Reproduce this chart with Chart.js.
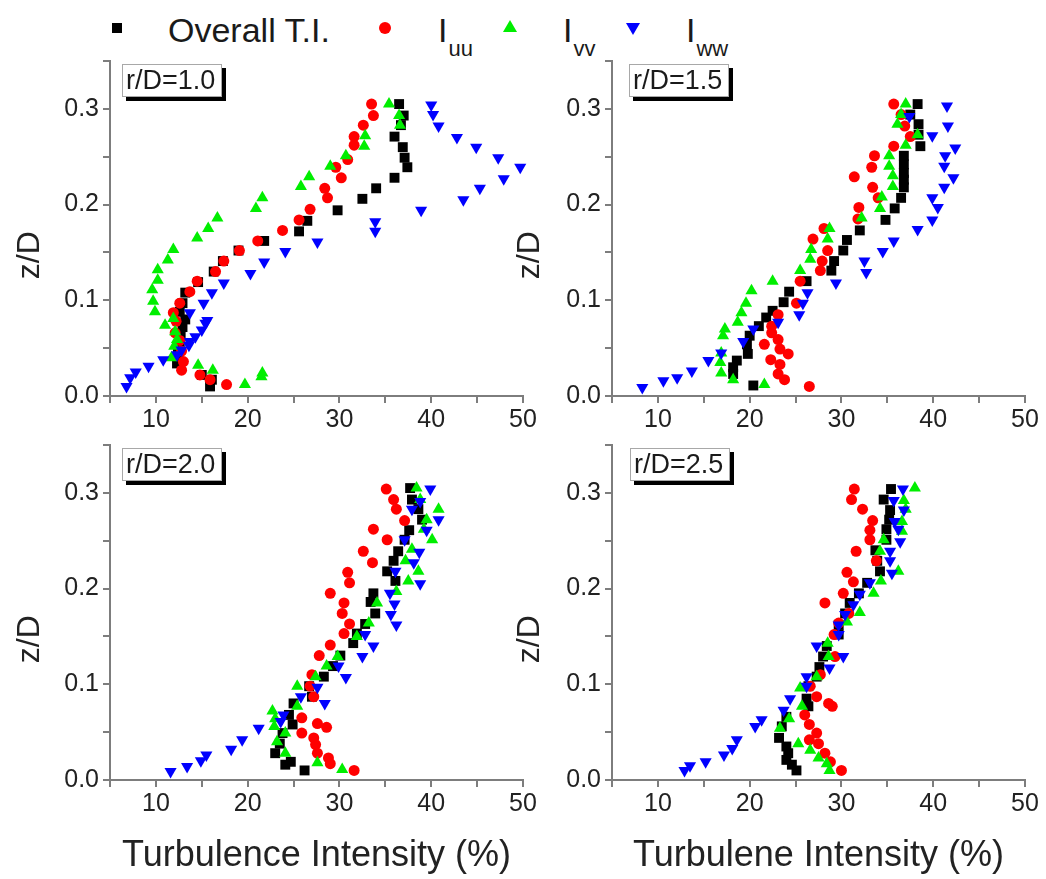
<!DOCTYPE html>
<html>
<head>
<meta charset="utf-8">
<script src="https://cdn.jsdelivr.net/npm/chart.js@4.4.1/dist/chart.umd.min.js"></script>
<style>
  html, body { margin: 0; padding: 0; background: #ffffff; }
  #wrap { position: relative; width: 1046px; height: 879px; overflow: hidden; background: #ffffff;
          font-family: 'Liberation Sans', Arial, Helvetica, sans-serif; color: #1a1a1a; }
  .panel { position: absolute; }
  .panel canvas { display: block; }
  .lg { position: absolute; top: 13px; font-size: 34px; line-height: 34px; white-space: nowrap; }
  .lg sub { font-size: 22px; line-height: 1; vertical-align: -14px; margin-left: 1px; }
  .mk { position: absolute; width: 0; height: 0; }
  .tag { position: absolute; box-sizing: border-box; width: 100px; height: 33px; background: #fff;
         border: 1px solid #a8a8a8; box-shadow: 4px 4px 0 0 #000; font-size: 27px; line-height: 31px;
         padding-left: 3px; color: #1a1a1a; white-space: nowrap; }
</style>
</head>
<body>
<div id="wrap">
  <!-- legend -->
  <div class="mk" style="left:112px;top:23px;width:10px;height:10px;background:#000;"></div>
  <div class="lg" style="left:168px;">Overall T.I.</div>
  <div class="mk" style="left:379px;top:22px;width:12px;height:12px;border-radius:50%;background:#ff0000;"></div>
  <div class="lg" style="left:438px;">I<sub>uu</sub></div>
  <div class="mk" style="left:503px;top:20px;border-left:7px solid transparent;border-right:7px solid transparent;border-bottom:12px solid #00ee00;"></div>
  <div class="lg" style="left:563px;">I<sub>vv</sub></div>
  <div class="mk" style="left:626px;top:23px;border-left:7px solid transparent;border-right:7px solid transparent;border-top:12px solid #0000ff;"></div>
  <div class="lg" style="left:686px;">I<sub>ww</sub></div>

  <div class="panel" style="left:0px;top:40px;"><canvas id="c1" width="545" height="400"></canvas></div>
  <div class="panel" style="left:500px;top:40px;"><canvas id="c2" width="546" height="400"></canvas></div>
  <div class="panel" style="left:0px;top:425px;"><canvas id="c3" width="545" height="454"></canvas></div>
  <div class="panel" style="left:500px;top:425px;"><canvas id="c4" width="546" height="454"></canvas></div>

  <div class="tag" style="left:122px;top:64px;">r/D=1.0</div>
  <div class="tag" style="left:629px;top:64px;">r/D=1.5</div>
  <div class="tag" style="left:122px;top:448px;">r/D=2.0</div>
  <div class="tag" style="left:630px;top:448px;">r/D=2.5</div>
</div>

<script>
// ---------------- data: [turbulence intensity (%), z/D] ----------------
const seriesNames = ['Overall T.I.', 'Iuu', 'Ivv', 'Iww'];
const panelLabels = ['r/D=1.0', 'r/D=1.5', 'r/D=2.0', 'r/D=2.5'];
const xTitles = ['', '', 'Turbulence Intensity (%)', 'Turbulene Intensity (%)'];
const yTitle = 'z/D';
const xTickValues = [10, 20, 30, 40, 50];
const yTickValues = [0.0, 0.1, 0.2, 0.3];

// r/D = 1.0
const rd10_overall = [[36.5,0.305],[37.0,0.293],[36.7,0.283],[36.0,0.271],[36.9,0.260],[37.1,0.249],[37.4,0.239],[36.0,0.228],[34.0,0.217],[32.5,0.206],[29.8,0.194],[26.5,0.183],[25.6,0.172],[21.8,0.162],[19.0,0.152],[17.3,0.141],[16.3,0.130],[14.6,0.119],[13.2,0.108],[12.9,0.097],[12.6,0.088],[13.2,0.080],[12.9,0.072],[12.7,0.062],[12.6,0.053],[12.4,0.044],[12.3,0.034],[15.0,0.022],[16.1,0.017],[15.9,0.010]];
const rd10_iuu = [[33.5,0.305],[33.7,0.293],[32.6,0.283],[31.6,0.271],[31.6,0.262],[30.9,0.247],[29.6,0.239],[30.2,0.228],[28.4,0.217],[28.7,0.207],[26.8,0.195],[25.6,0.184],[23.8,0.173],[21.1,0.162],[19.1,0.152],[17.4,0.141],[16.5,0.130],[14.5,0.120],[13.7,0.109],[12.6,0.097],[11.9,0.087],[12.2,0.078],[12.1,0.066],[12.6,0.058],[12.8,0.047],[13.0,0.036],[12.8,0.027],[14.8,0.022],[15.9,0.017],[17.7,0.012]];
const rd10_ivv = [[35.4,0.305],[36.5,0.293],[36.6,0.283],[32.8,0.272],[32.7,0.261],[30.7,0.251],[29.0,0.240],[26.7,0.229],[25.8,0.219],[21.6,0.207],[20.9,0.196],[16.7,0.186],[15.7,0.175],[14.5,0.165],[11.9,0.153],[11.3,0.142],[10.2,0.132],[10.2,0.121],[9.6,0.111],[9.7,0.099],[9.9,0.088],[11.9,0.081],[11.0,0.074],[12.1,0.067],[12.3,0.059],[12.0,0.052],[11.7,0.040],[14.6,0.032],[16.2,0.027],[21.6,0.024],[21.5,0.020],[19.7,0.012]];
const rd10_iww = [[40.0,0.304],[40.2,0.294],[40.8,0.282],[42.8,0.270],[44.9,0.260],[47.3,0.249],[49.7,0.239],[47.9,0.227],[45.3,0.217],[43.5,0.205],[38.9,0.194],[33.9,0.182],[33.9,0.172],[27.6,0.161],[24.1,0.151],[21.8,0.140],[20.3,0.128],[17.4,0.118],[16.1,0.108],[15.2,0.097],[13.7,0.087],[15.6,0.079],[15.4,0.076],[15.0,0.069],[14.3,0.062],[13.7,0.057],[13.6,0.053],[12.8,0.048],[12.3,0.043],[10.8,0.038],[9.2,0.031],[7.8,0.025],[7.2,0.019],[6.8,0.010]];

// r/D = 1.5
const rd15_overall = [[38.3,0.305],[37.5,0.294],[38.4,0.284],[38.4,0.273],[38.6,0.261],[36.8,0.251],[36.8,0.242],[36.8,0.233],[36.8,0.226],[36.8,0.218],[36.5,0.207],[35.8,0.196],[34.8,0.184],[32.0,0.173],[30.6,0.163],[30.2,0.152],[29.2,0.141],[28.9,0.131],[26.2,0.120],[24.3,0.109],[23.7,0.098],[22.5,0.089],[21.8,0.082],[21.0,0.073],[20.0,0.063],[19.7,0.054],[19.8,0.044],[18.6,0.037],[18.2,0.030],[18.2,0.023],[20.4,0.011]];
const rd15_iuu = [[35.7,0.305],[36.5,0.294],[36.9,0.282],[37.5,0.271],[35.7,0.261],[33.6,0.251],[33.3,0.239],[31.4,0.229],[33.4,0.218],[34.0,0.207],[31.9,0.197],[31.8,0.185],[28.1,0.175],[26.9,0.164],[28.5,0.152],[27.9,0.141],[27.7,0.131],[25.5,0.120],[25.1,0.097],[23.1,0.085],[22.4,0.073],[22.4,0.066],[23.1,0.059],[21.6,0.054],[23.3,0.049],[24.2,0.044],[22.3,0.038],[23.3,0.033],[23.1,0.023],[23.8,0.017],[26.5,0.010]];
const rd15_ivv = [[37.0,0.305],[36.5,0.294],[36.1,0.284],[38.3,0.273],[37.0,0.262],[35.2,0.251],[35.2,0.240],[35.6,0.230],[35.6,0.219],[34.4,0.208],[34.2,0.196],[32.2,0.186],[28.7,0.175],[28.5,0.164],[26.7,0.153],[26.6,0.143],[25.5,0.131],[22.5,0.120],[20.2,0.110],[19.6,0.097],[19.1,0.087],[18.7,0.077],[17.3,0.070],[17.1,0.063],[16.9,0.045],[16.8,0.035],[16.9,0.024],[18.2,0.017],[21.6,0.012]];
const rd15_iww = [[41.5,0.303],[37.4,0.292],[41.6,0.282],[39.9,0.272],[42.4,0.259],[41.3,0.251],[41.2,0.240],[42.2,0.228],[41.2,0.218],[39.9,0.207],[40.5,0.197],[39.9,0.184],[38.3,0.174],[35.7,0.162],[34.5,0.151],[32.5,0.141],[32.7,0.129],[29.4,0.118],[26.3,0.108],[25.8,0.097],[25.4,0.085],[23.1,0.077],[20.4,0.070],[19.3,0.057],[16.9,0.045],[15.5,0.037],[13.7,0.026],[12.1,0.019],[10.6,0.016],[8.3,0.009]];

// r/D = 2.0
const rd20_overall = [[37.7,0.305],[37.9,0.293],[38.6,0.283],[39.0,0.272],[37.6,0.261],[37.1,0.251],[36.4,0.239],[35.9,0.229],[35.2,0.218],[36.1,0.208],[33.7,0.195],[33.4,0.186],[33.9,0.174],[32.8,0.163],[31.9,0.153],[31.5,0.143],[30.1,0.130],[29.3,0.119],[28.3,0.108],[26.7,0.098],[27.0,0.087],[25.0,0.080],[24.5,0.068],[24.9,0.058],[23.8,0.049],[23.5,0.038],[23.0,0.028],[24.7,0.019],[24.1,0.016],[26.2,0.010]];
const rd20_iuu = [[35.1,0.304],[35.9,0.293],[36.2,0.283],[37.1,0.271],[33.7,0.262],[35.2,0.251],[32.6,0.239],[33.6,0.227],[30.9,0.217],[31.1,0.206],[29.0,0.195],[30.5,0.185],[30.3,0.174],[31.1,0.163],[30.5,0.153],[29.0,0.141],[27.8,0.130],[27.0,0.110],[26.8,0.098],[27.2,0.087],[25.9,0.065],[27.6,0.059],[28.6,0.055],[25.9,0.049],[27.2,0.044],[27.4,0.037],[27.6,0.028],[28.8,0.023],[29.0,0.017],[31.6,0.010]];
const rd20_ivv = [[38.4,0.305],[38.8,0.293],[40.8,0.283],[39.5,0.272],[39.2,0.262],[40.1,0.251],[37.9,0.241],[37.2,0.229],[38.6,0.218],[37.5,0.208],[36.2,0.197],[34.1,0.185],[33.2,0.164],[31.9,0.150],[29.8,0.129],[28.6,0.119],[27.4,0.108],[25.4,0.098],[25.4,0.077],[22.7,0.072],[23.0,0.064],[22.9,0.056],[24.1,0.049],[23.2,0.040],[24.1,0.028],[27.6,0.018],[30.3,0.011]];
const rd20_iww = [[39.9,0.304],[38.8,0.291],[37.9,0.283],[40.8,0.272],[39.5,0.261],[37.1,0.251],[38.7,0.238],[38.1,0.227],[36.1,0.218],[38.8,0.205],[35.5,0.195],[36.0,0.184],[35.6,0.173],[36.2,0.162],[32.8,0.152],[33.7,0.140],[32.5,0.129],[29.9,0.119],[30.7,0.107],[27.6,0.097],[25.8,0.087],[28.4,0.080],[23.9,0.068],[23.6,0.061],[21.2,0.054],[19.4,0.042],[18.2,0.032],[15.5,0.026],[14.9,0.020],[13.4,0.014],[11.6,0.009]];

// r/D = 2.5
const rd25_overall = [[35.4,0.304],[34.6,0.293],[35.3,0.282],[35.2,0.272],[34.9,0.262],[34.9,0.251],[33.7,0.240],[33.9,0.229],[34.2,0.218],[32.8,0.206],[31.9,0.195],[30.9,0.185],[30.4,0.174],[29.7,0.162],[29.7,0.152],[28.4,0.140],[28.0,0.129],[27.6,0.118],[27.3,0.108],[26.4,0.098],[26.2,0.085],[26.4,0.077],[24.0,0.066],[23.5,0.056],[23.2,0.044],[24.0,0.035],[24.2,0.028],[24.0,0.021],[24.6,0.016],[25.1,0.010]];
const rd25_iuu = [[31.4,0.304],[31.1,0.293],[32.3,0.283],[33.4,0.271],[33.1,0.261],[33.1,0.251],[31.6,0.239],[33.8,0.229],[30.6,0.217],[31.3,0.207],[30.2,0.195],[28.2,0.185],[30.8,0.174],[29.7,0.164],[29.2,0.152],[29.3,0.129],[27.7,0.110],[26.6,0.098],[27.3,0.087],[28.6,0.080],[29.0,0.077],[26.0,0.068],[26.5,0.058],[27.3,0.049],[26.5,0.042],[27.5,0.038],[28.2,0.028],[28.8,0.019],[30.0,0.010]];
const rd25_ivv = [[38.0,0.305],[36.8,0.292],[37.0,0.283],[36.6,0.270],[36.6,0.260],[34.6,0.251],[34.2,0.239],[36.2,0.218],[34.3,0.208],[33.5,0.195],[32.0,0.175],[30.6,0.165],[28.5,0.143],[28.6,0.129],[27.3,0.108],[25.5,0.096],[25.7,0.077],[24.3,0.064],[23.3,0.054],[25.3,0.038],[26.6,0.031],[27.5,0.023],[28.4,0.017],[28.7,0.010]];
const rd25_iww = [[36.7,0.304],[35.7,0.292],[36.8,0.282],[35.8,0.270],[36.2,0.262],[36.4,0.249],[35.3,0.239],[35.3,0.229],[35.5,0.216],[33.1,0.206],[32.0,0.194],[31.3,0.183],[30.4,0.173],[29.7,0.162],[29.7,0.152],[27.3,0.140],[30.2,0.129],[28.7,0.117],[26.2,0.108],[26.2,0.098],[24.4,0.085],[23.7,0.073],[21.3,0.063],[20.6,0.056],[18.6,0.042],[18.1,0.033],[17.2,0.026],[15.2,0.019],[13.5,0.015],[12.9,0.010]];

// ---------------- styling ----------------
const FONT = "'Liberation Sans', Arial, Helvetica, sans-serif";
const AXIS = '#7d7d7d';
const TXT = '#222222';
const seriesStyle = [
  { color: '#000000', style: 'rect',     radius: 7,   rotation: 0,   order: 4 },
  { color: '#ff0000', style: 'circle',   radius: 5.5, rotation: 0,   order: 3 },
  { color: '#00ee00', style: 'triangle', radius: 7,   rotation: 0,   order: 2 },
  { color: '#0000ff', style: 'triangle', radius: 7,   rotation: 180, order: 1 }
];

function isMultiple(v, step) {
  const q = v / step;
  return Math.abs(q - Math.round(q)) < 1e-6;
}

function makeDataset(i, pairs) {
  const s = seriesStyle[i];
  return {
    label: seriesNames[i],
    data: pairs.map(p => ({ x: p[0], y: p[1] })),
    showLine: false,
    pointStyle: s.style,
    pointRadius: s.radius,
    pointHoverRadius: s.radius,
    pointRotation: s.rotation,
    pointBackgroundColor: s.color,
    pointBorderColor: s.color,
    pointBorderWidth: 0,
    backgroundColor: s.color,
    borderColor: s.color,
    order: s.order,
    clip: false
  };
}

function makeChart(canvasId, seriesList, xTitle, geo) {
  const ctx = document.getElementById(canvasId).getContext('2d');
  return new Chart(ctx, {
    type: 'scatter',
    data: { datasets: seriesList.map((pairs, i) => makeDataset(i, pairs)) },
    options: {
      responsive: false,
      devicePixelRatio: 1,
      animation: false,
      events: [],
      layout: { padding: { top: geo.padTop, right: geo.padRight, left: 0, bottom: 0 } },
      plugins: { legend: { display: false }, tooltip: { enabled: false } },
      scales: {
        x: {
          type: 'linear', position: 'bottom', min: 5, max: 50,
          afterFit: (s) => { s.height = geo.xH; },
          border: { display: true, color: AXIS, width: 2 },
          grid: { display: true, drawOnChartArea: false, drawTicks: true, tickLength: 7, color: AXIS, lineWidth: 2 },
          ticks: {
            stepSize: 5, autoSkip: false, maxRotation: 0, minRotation: 0, padding: 2,
            color: TXT, font: { family: FONT, size: 25 },
            callback: (v) => (isMultiple(v, 10) && xTickValues.includes(Math.round(v))) ? String(Math.round(v)) : ''
          },
          title: {
            display: !!xTitle, text: xTitle, color: TXT,
            font: { family: FONT, size: 36 }, padding: { top: 0, bottom: 1 }
          }
        },
        y: {
          type: 'linear', position: 'left', min: 0, max: 0.35,
          afterFit: (s) => { s.width = geo.yW; },
          border: { display: true, color: AXIS, width: 2 },
          grid: { display: true, drawOnChartArea: false, drawTicks: true, tickLength: 7, color: AXIS, lineWidth: 2 },
          ticks: {
            stepSize: 0.05, autoSkip: false, padding: 4,
            color: TXT, font: { family: FONT, size: 25 },
            callback: (v) => (isMultiple(v, 0.1) && yTickValues.some(t => Math.abs(t - v) < 1e-6)) ? v.toFixed(1) : ''
          },
          title: {
            display: true, text: yTitle + '      ', color: TXT,
            font: { family: FONT, size: 32 }, padding: { top: 11, bottom: 0 }
          }
        }
      }
    }
  });
}

makeChart('c1', [rd10_overall, rd10_iuu, rd10_ivv, rd10_iww], xTitles[0], { yW: 110, xH: 44, padTop: 21, padRight: 22 });
makeChart('c2', [rd15_overall, rd15_iuu, rd15_ivv, rd15_iww], xTitles[1], { yW: 112, xH: 44, padTop: 21, padRight: 21 });
makeChart('c3', [rd20_overall, rd20_iuu, rd20_ivv, rd20_iww], xTitles[2], { yW: 110, xH: 99, padTop: 20, padRight: 22 });
makeChart('c4', [rd25_overall, rd25_iuu, rd25_ivv, rd25_iww], xTitles[3], { yW: 112, xH: 99, padTop: 20, padRight: 21 });
</script>
</body>
</html>
